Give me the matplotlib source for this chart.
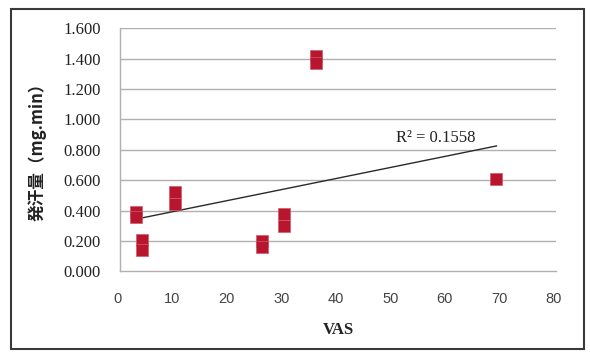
import numpy as np
import matplotlib
matplotlib.use("Agg")
import matplotlib.pyplot as plt
import matplotlib.transforms as mtrans
from matplotlib.patches import Rectangle

# Data
vas = [3, 3, 4, 4, 10, 10, 26, 26, 30, 30, 36, 36, 69]
sweat = [0.39, 0.36, 0.21, 0.14, 0.525, 0.445, 0.20, 0.16, 0.38, 0.30, 1.415, 1.375, 0.61]
# Excel linear trend line as drawn in the reference (end points)
trend_x = [3, 69]
trend_y = [0.345, 0.826]
r2_label = "R² = 0.1558"
x_ticks = [0, 10, 20, 30, 40, 50, 60, 70, 80]
y_ticks = [0.0, 0.2, 0.4, 0.6, 0.8, 1.0, 1.2, 1.4, 1.6]
x_label = "VAS"
y_label = "発汗量（mg.min）"

fig = plt.figure(figsize=(5.9, 3.52), dpi=100)
fig.patch.set_facecolor("white")
ax = fig.add_axes([0.2034, 0.2287, 0.9432 - 0.2034, 0.9196 - 0.2287])

grid_c = "#b4aeae"
for y in y_ticks[1:]:
    ax.axhline(y, color=grid_c, lw=1.0, zorder=1)

ax.set_xlim(0, 80)
ax.set_ylim(0, 1.6)
ax.set_xticks(x_ticks)
ax.set_yticks(y_ticks)
ax.set_yticklabels([f"{v:.3f}" for v in y_ticks], family="Liberation Serif",
                   fontsize=12, color="#222222")
ax.set_xticklabels([str(v) for v in x_ticks], family="Liberation Sans",
                   fontsize=10.5, color="#444444")
ax.tick_params(axis="both", length=0)
ax.tick_params(axis="y", pad=14)
ax.tick_params(axis="x", pad=15)
shift = mtrans.ScaledTranslation(-2.5 / 100, 0, fig.dpi_scale_trans)
for lab in ax.get_xticklabels():
    lab.set_transform(lab.get_transform() + shift)

for s in ["top", "right"]:
    ax.spines[s].set_visible(False)
for s in ["left", "bottom"]:
    ax.spines[s].set_color(grid_c)
    ax.spines[s].set_linewidth(1.0)

# trend line
ax.plot(trend_x, trend_y, color="#2a2a2a", lw=1.0, zorder=2)

ax.plot(vas, sweat, linestyle="none", marker="s", markersize=9,
        markerfacecolor="#b8152f", markeredgecolor="#d05a6a",
        markeredgewidth=0.5, zorder=3)

ax.text(50.6, 0.88, r2_label, family="Liberation Serif", fontsize=12,
        color="#222222", ha="left", va="center")

fig.text(338.7 / 590, 1 - 330 / 352, x_label, family="Liberation Serif",
         fontweight="bold", fontsize=12, ha="center", va="center", color="#222222")
fig.text(37.5 / 590, 1 - 148 / 352, y_label,
         family=["Noto Sans CJK JP", "DejaVu Sans"], fontweight="bold",
         fontsize=12, rotation=90, ha="center", va="center", color="#222222")

fig.patches.append(Rectangle((11 / 590, 1 - 349 / 352), (584 - 11) / 590,
                             (349 - 9) / 352, transform=fig.transFigure,
                             fill=False, edgecolor="#3a3a3a", lw=1.5))

fig.savefig("out.png", dpi=100, facecolor="white")
